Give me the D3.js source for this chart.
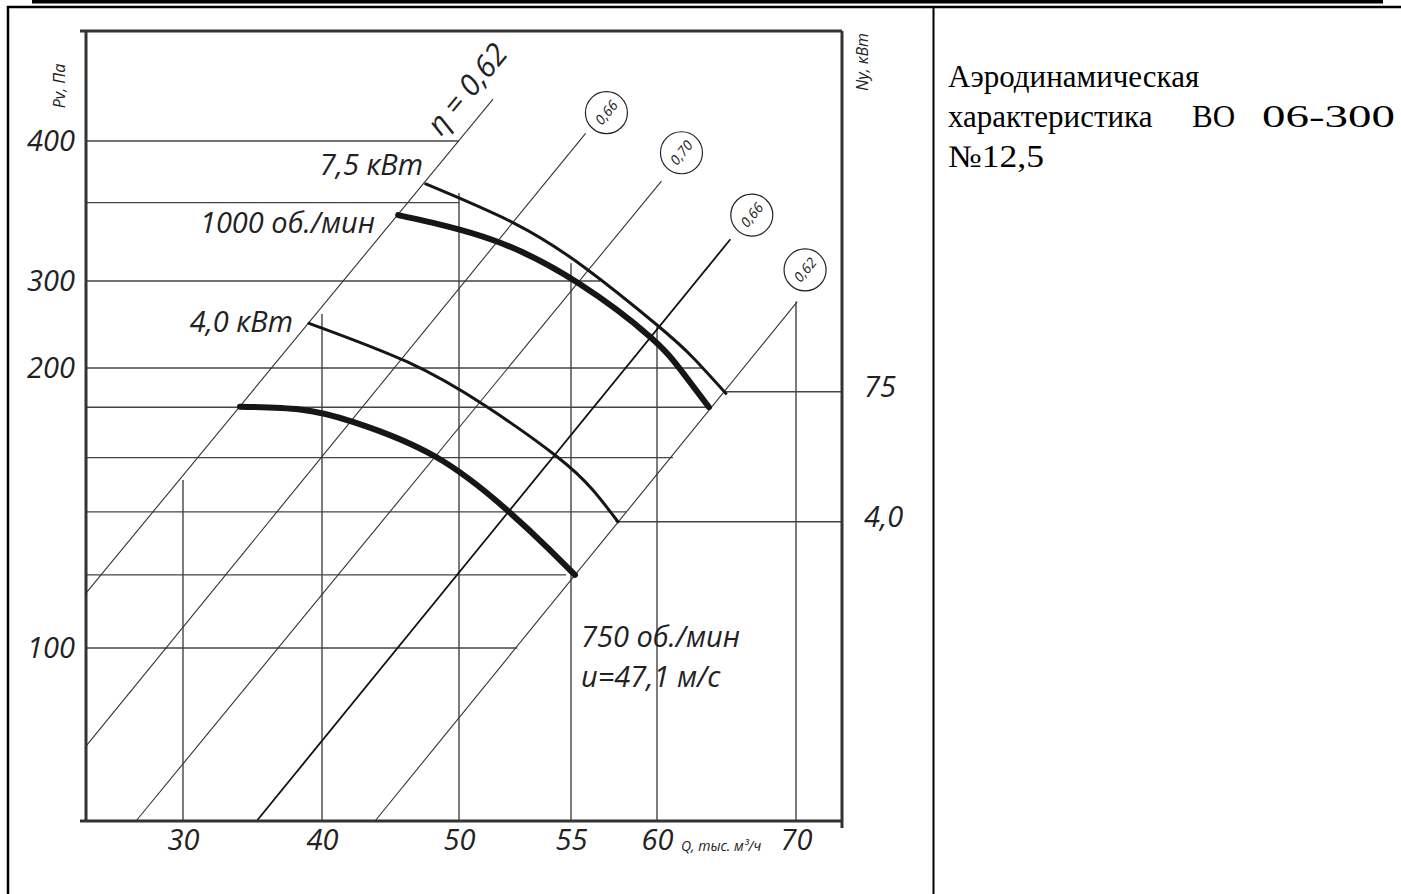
<!DOCTYPE html>
<html>
<head>
<meta charset="utf-8">
<script src="https://cdn.jsdelivr.net/npm/d3@7"></script>
<style>
  body { margin: 0; background: #fff; }
  svg { display: block; }
  .lbl { font-family: "Open Sans", sans-serif; font-style: italic; fill: #222; }
  .note { font-family: "Liberation Serif", "Times New Roman", serif; fill: #000; font-size: 31px; }
</style>
</head>
<body>
<svg id="chart" width="1401" height="894"></svg>
<script>
// Axis values (Q - thousand m3/h, Pv - Pa)
let qTicks = [30, 40, 50, 55, 60, 70];
let pTicks = [100, 200, 300, 400];

// The drawing's axes are not regular, so the scale anchors are read at each label
let qDomain = [23, 30, 40, 50, 55, 60, 70, 73.4];
let pDomain = [40, 100, 200, 300, 400, 480];

// Horizontal grid lines: pressure and Q extent
let hGrid = [
    {p: 400, q0: 23, q1: 50},
    {p: 356, q0: 23, q1: 50},
    {p: 300, q0: 23, q1: 56.7},
    {p: 200, q0: 23, q1: 63.35},
    {p: 186, q0: 23, q1: 63.6},
    {p: 168, q0: 23, q1: 61.15},
    {p: 148.6, q0: 23, q1: 58.24},
    {p: 126.1, q0: 23, q1: 54.78},
    {p: 100, q0: 23, q1: 52.6},
    {p: 191.5, q0: 64.9, q1: 73.4},
    {p: 145.1, q0: 57.6, q1: 73.4}
];

// Vertical grid lines: Q and pressure at the top end
let vGrid = [
    {q: 30, pTop: 160},
    {q: 40, pTop: 262},
    {q: 50, pTop: 362.9},
    {q: 55, pTop: 312.6},
    {q: 60, pTop: 247.5},
    {q: 70, pTop: 276.2}
];

// Efficiency lines (eta), end points and circle label position
let etaLines = [
    {eta: '0,62', q0: 23, p0: 119.6, q1: 51.52, p1: 430.5, bold: false},
    {eta: '0,66', q0: 23, p0: 66, q1: 55.85, p1: 405.6, lq: 57.06, lp: 420.6, bold: false},
    {eta: '0,70', q0: 26.61, p0: 40, q1: 60.32, p1: 371.4, lq: 61.76, lp: 391.6, bold: false},
    {eta: '0,66', q0: 35.3, p0: 40, q1: 65.28, p1: 329.8, lq: 66.82, lp: 347.1, bold: true},
    {eta: '0,62', q0: 43.87, p0: 40, q1: 70.1, p1: 276.2, lq: 70.67, lp: 307.9, bold: false}
];

// Fan curves [Q, Pv]
let curvePower75 = [[47.57, 369.3], [52.47, 341.2], [55.85, 309.1], [60, 249.4], [62.58, 212.1], [64.96, 190.9]];
let curve1000 = [[45.56, 347.1], [51.51, 329.3], [55.44, 297.4], [59.59, 236], [61.8, 198.7], [63.74, 186]];
let curvePower40 = [[39.06, 251.4], [46.2, 207.2], [51.19, 186.4], [54.38, 168.3], [56.27, 156.4], [57.73, 145.1]];
let curve750 = [[34.1, 186.2], [38.42, 185.2], [42.31, 180.7], [48.3, 168.3], [52.14, 149.3], [53.97, 135.7], [55.23, 126.1]];

// Texts on the chart
let curveLabels = [
    {text: '7,5 кВт', q: 47.37, p: 382.9, anchor: 'end'},
    {text: '1000 об./мин', q: 43.87, p: 341.4, anchor: 'end'},
    {text: '4,0 кВт', q: 37.91, p: 252.9, anchor: 'end'},
    {text: '750 об./мин', q: 55.58, p: 103.9, anchor: 'start'},
    {text: 'u=47,1 м/с', q: 55.58, p: 89.9, anchor: 'start'}
];
let powerLabels = [{p: 191.5, text: '75'}, {p: 145.1, text: '4,0'}];
let noteLines = ['Аэродинамическая', ['характеристика', 'ВО', '06-300'], '№12,5'];

let svg = d3.select('#chart');

//set scales (piecewise)
let x = d3.scaleLinear().domain(qDomain).range([86, 183, 322, 459, 571, 657, 796, 842]);
let y = d3.scaleLinear().domain(pDomain).range([821, 648, 368, 281, 141, 31]);

// page frame
svg.append('rect').attr('x', 32).attr('y', 0).attr('width', 1351).attr('height', 3.5).attr('fill', '#000');
svg.append('line').attr('x1', 7).attr('x2', 1401).attr('y1', 7).attr('y2', 7)
    .attr('stroke', '#000').attr('stroke-width', 2.5);
svg.append('line').attr('x1', 8).attr('x2', 8).attr('y1', 6).attr('y2', 894)
    .attr('stroke', '#000').attr('stroke-width', 2.5);
svg.append('line').attr('x1', 933.5).attr('x2', 933.5).attr('y1', 6).attr('y2', 894)
    .attr('stroke', '#000').attr('stroke-width', 2);

let plot = svg.append('g');

// grid
plot.selectAll('line.h').data(hGrid).enter().append('line')
    .attr('class', 'h')
    .attr('x1', d => x(d.q0)).attr('x2', d => x(d.q1))
    .attr('y1', d => y(d.p)).attr('y2', d => y(d.p))
    .attr('stroke', '#444').attr('stroke-width', 1.4);

plot.selectAll('line.v').data(vGrid).enter().append('line')
    .attr('class', 'v')
    .attr('x1', d => x(d.q)).attr('x2', d => x(d.q))
    .attr('y1', d => y(d.pTop)).attr('y2', y(40))
    .attr('stroke', '#444').attr('stroke-width', 1.4);

// efficiency lines
plot.selectAll('line.eta').data(etaLines).enter().append('line')
    .attr('class', 'eta')
    .attr('x1', d => x(d.q0)).attr('y1', d => y(d.p0))
    .attr('x2', d => x(d.q1)).attr('y2', d => y(d.p1))
    .attr('stroke', d => d.bold ? '#111' : '#333')
    .attr('stroke-width', d => d.bold ? 1.8 : 1.1);

let angle = Math.atan2(y(etaLines[0].p0) - y(etaLines[0].p1), x(etaLines[0].q1) - x(etaLines[0].q0)) * 180 / Math.PI;

let circled = etaLines.filter(d => d.lq !== undefined);
let marks = plot.selectAll('g.mark').data(circled).enter().append('g')
    .attr('class', 'mark')
    .attr('transform', d => 'translate(' + x(d.lq) + ',' + y(d.lp) + ')');
marks.append('circle').attr('r', 21).attr('fill', '#fff').attr('stroke', '#222').attr('stroke-width', 1.2);
marks.append('text').attr('class', 'lbl')
    .attr('transform', 'rotate(' + (-angle) + ')')
    .attr('text-anchor', 'middle').attr('dy', '0.35em')
    .style('font-size', '14px')
    .text(d => d.eta);

// eta = 0,62 caption along the first line
plot.append('text').attr('class', 'lbl')
    .attr('transform', 'translate(' + (x(etaLines[0].q1) - 52) + ',' + (y(etaLines[0].p1) + 38) + ') rotate(' + (-angle) + ')')
    .style('font-size', '30px')
    .text('η = 0,62');

// fan curves
let line = d3.line()
    .x(d => x(d[0]))
    .y(d => y(d[1]))
    .curve(d3.curveNatural);

let curves = [
    {data: curvePower75, w: 3},
    {data: curve1000, w: 6},
    {data: curvePower40, w: 3},
    {data: curve750, w: 6}
];
plot.selectAll('path.curve').data(curves).enter().append('path')
    .attr('class', 'curve')
    .attr('d', d => line(d.data))
    .attr('fill', 'none')
    .attr('stroke', '#161616')
    .attr('stroke-width', d => d.w)
    .attr('stroke-linecap', 'round');

// axes frame
let axisStyle = sel => sel.attr('stroke', '#333').attr('stroke-width', 3);
plot.append('line').attr('x1', x(23) - 6).attr('x2', x(73.4)).attr('y1', y(480)).attr('y2', y(480)).call(axisStyle);
plot.append('line').attr('x1', x(23) - 6).attr('x2', x(73.4)).attr('y1', y(40)).attr('y2', y(40)).call(axisStyle);
plot.append('line').attr('x1', x(23)).attr('x2', x(23)).attr('y1', y(480)).attr('y2', y(40)).call(axisStyle);
plot.append('line').attr('x1', x(73.4)).attr('x2', x(73.4)).attr('y1', y(480)).attr('y2', y(40) + 7).call(axisStyle);

// tick labels
let yAxis = plot.append('g')
    .attr('transform', 'translate(' + x(23) + ',0)')
    .call(d3.axisLeft(y).tickValues(pTicks).tickSize(0).tickPadding(11));
let xAxis = plot.append('g')
    .attr('transform', 'translate(0,' + y(40) + ')')
    .call(d3.axisBottom(x).tickValues(qTicks).tickSize(0).tickPadding(8));
[yAxis, xAxis].forEach(a => {
    a.select('.domain').remove();
    a.selectAll('text').attr('class', 'lbl').attr('fill', null)
        .style('font-size', '29px').style('font-family', '"Open Sans", sans-serif');
});

// power scale labels on the right
plot.selectAll('text.pw').data(powerLabels).enter().append('text')
    .attr('class', 'lbl pw')
    .attr('x', x(73.4) + 22).attr('y', d => y(d.p) - 5)
    .attr('dy', '0.35em')
    .style('font-size', '29px')
    .text(d => d.text);

// axis titles
plot.append('text').attr('class', 'lbl')
    .attr('transform', 'translate(65,86) rotate(-90)')
    .attr('text-anchor', 'middle')
    .style('font-size', '16px')
    .text('Pv, Па');
plot.append('text').attr('class', 'lbl')
    .attr('transform', 'translate(868,62) rotate(-90)')
    .attr('text-anchor', 'middle')
    .style('font-size', '16px')
    .text('Ny, кВт');
plot.append('text').attr('class', 'lbl')
    .attr('x', 681).attr('y', 851)
    .style('font-size', '14px')
    .text('Q, тыс. м³/ч');

// curve captions
plot.selectAll('text.cap').data(curveLabels).enter().append('text')
    .attr('class', 'lbl cap')
    .attr('x', d => x(d.q)).attr('y', d => y(d.p))
    .attr('dy', '0.35em')
    .attr('text-anchor', d => d.anchor)
    .style('font-size', '29px')
    .text(d => d.text);

// right side note
let note = svg.append('text').attr('class', 'note');
note.append('tspan').attr('x', 948).attr('y', 87).text(noteLines[0]);
note.append('tspan').attr('x', 948).attr('y', 127).text(noteLines[1][0]);
note.append('tspan').attr('x', 1192).attr('y', 127).text(noteLines[1][1]);
note.append('tspan').attr('x', 1262).attr('y', 127)
    .attr('textLength', 133).attr('lengthAdjust', 'spacingAndGlyphs').text(noteLines[1][2]);
note.append('tspan').attr('x', 948).attr('y', 167)
    .attr('textLength', 96).attr('lengthAdjust', 'spacingAndGlyphs').text(noteLines[2]);
</script>
</body>
</html>
